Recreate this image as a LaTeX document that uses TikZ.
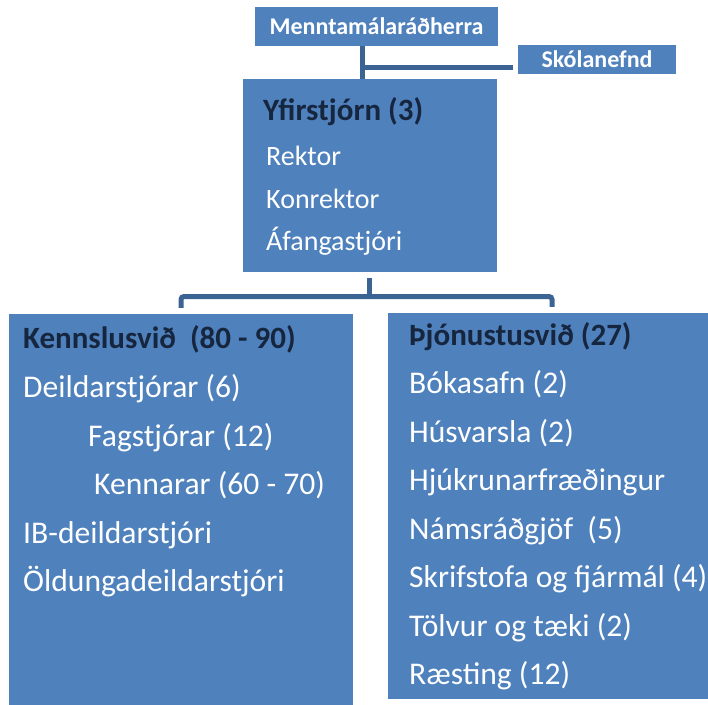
\documentclass[tikz,border=0pt]{standalone}
\usepackage{fontspec}
\setmainfont{Carlito}
\usepackage{tikz}

\definecolor{boxblue}{HTML}{4F81BD}
\definecolor{lineblue}{HTML}{3B6494}
\definecolor{headnavy}{HTML}{17263F}

\tikzset{
  unit/.style={fill=boxblue, inner sep=0pt},
  tag/.style={unit, text=white, font=\fontsize{24}{28}\selectfont\bfseries},
  head/.style={anchor=base west, inner sep=0pt, text=headnavy, font=\fontsize{31}{37}\selectfont\bfseries},
  item/.style={anchor=base west, inner sep=0pt, text=white, font=\fontsize{31.6}{38}\selectfont},
  smallitem/.style={item, font=\fontsize{28}{34}\selectfont},
  link/.style={draw=lineblue, line width=5pt}
}

\begin{document}
\begin{tikzpicture}[x=100pt,y=100pt]
\useasboundingbox (0,0) rectangle (7.08,-7.05);
%Top boxes
  \node[tag,minimum width=243pt,minimum height=39pt] (minister) at (3.765,-0.265) {Menntamálaráðherra};
  \node[tag,minimum width=158pt,minimum height=29pt] (board) at (5.97,-0.595) {Skólanefnd};
  \node[unit,minimum width=254pt,minimum height=193pt] (exec) at (3.70,-1.755) {};
% Lower boxes
  \node[unit,minimum width=344pt,minimum height=392pt] (teach) at (1.81,-5.10) {};
  \node[unit,minimum width=328pt,minimum height=386pt] (service) at (5.52,-5.06) {};
% links
  \coordinate (mx) at (3.62,0);
  \coordinate (bj) at (5.13,-0.67);
  \coordinate (split) at (3.69,-2.965);
  \draw[link] (minister.south -| mx) -- (exec.north -| mx);
  \draw[link] (mx |- bj) -- (bj);
  \draw[link] ([yshift=-6pt]exec.south -| split) -- (split);
  \draw[link,rounded corners=3pt] ([yshift=6pt]teach.north) |- (split) -| ([yshift=6pt]service.north);
%Yfirstjorn
  \node[head] (exechead) at (2.63,-1.20) {Yfirstjórn (3)};
  \node[smallitem] (rektor) at (2.66,-1.65) {Rektor};
  \node[smallitem] (konrektor) at (2.66,-2.08) {Konrektor};
  \node[smallitem] (afanga) at (2.66,-2.50) {Áfangastjóri};
%Kennslusvid
  \node[head] (teachhead) at (0.23,-3.48) {Kennslusvið\ \ (80 - 90)};
  \node[item] (deild) at (0.23,-3.97) {Deildarstjórar (6)};
  \node[item] (fag) at (0.88,-4.46) {Fagstjórar (12)};
  \node[item] (kenn) at (0.94,-4.94) {Kennarar (60 - 70)};
  \node[item] (ib) at (0.23,-5.43) {IB-deildarstjóri};
  \node[item] (oldung) at (0.23,-5.91) {Öldungadeildarstjóri};
%Thjonustusvid
  \node[head] (servhead) at (4.09,-3.45) {Þjónustusvið (27)};
  \node[item] (boka) at (4.09,-3.93) {Bókasafn (2)};
  \node[item] (husv) at (4.09,-4.42) {Húsvarsla (2)};
  \node[item] (hjuk) at (4.09,-4.90) {Hjúkrunarfræðingur};
  \node[item] (nams) at (4.09,-5.39) {Námsráðgjöf\ \ (5)};
  \node[item] (skrif) at (4.09,-5.87) {Skrifstofa og fjármál (4)};
  \node[item] (tolv) at (4.09,-6.36) {Tölvur og tæki (2)};
  \node[item] (raest) at (4.09,-6.84) {Ræsting (12)};
\end{tikzpicture}
\end{document}
